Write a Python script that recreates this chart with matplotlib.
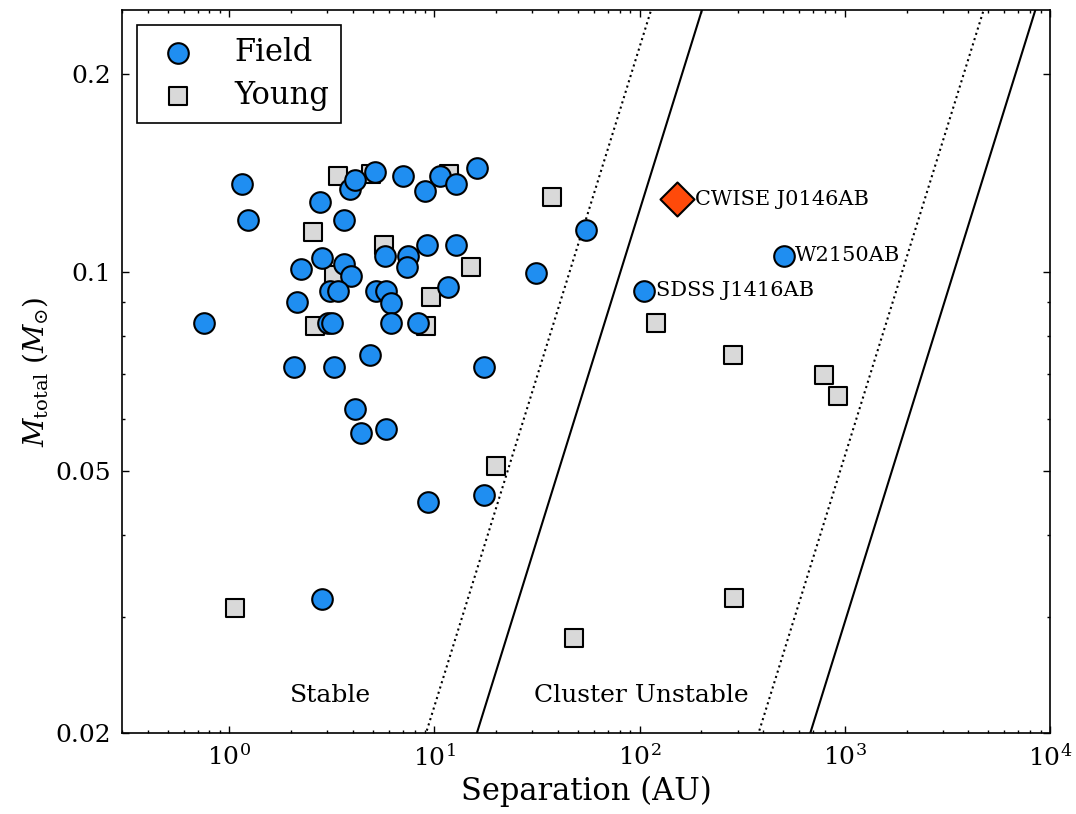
import numpy as np
import matplotlib
matplotlib.use('Agg')
import matplotlib.pyplot as plt
from matplotlib.ticker import LogLocator, NullFormatter, FixedLocator, FixedFormatter

plt.rcParams['font.family'] = ['DejaVu Serif']
plt.rcParams['mathtext.fontset'] = 'dejavuserif'

# field binaries: separation (AU), total mass (Msun)
field_sep = [1.15, 1.23, 0.756, 2.77, 3.64, 3.89, 4.12, 5.15, 7.03, 8.99, 10.6, 12.8,
             16.2, 54.8, 2.23, 2.84, 3.62, 3.91, 2.14, 3.09, 3.37, 3.03, 3.15, 5.73,
             7.41, 7.37, 9.16, 12.8, 5.21, 5.79, 6.12, 6.14, 8.34, 11.6, 31.4, 2.07,
             3.23, 4.85, 17.5, 4.09, 4.40, 5.79, 9.30, 17.5, 2.84, 104.6, 508]
field_mass = [0.136, 0.120, 0.0839, 0.128, 0.120, 0.134, 0.138, 0.142, 0.140, 0.133,
              0.140, 0.136, 0.144, 0.116, 0.101, 0.105, 0.103, 0.0988, 0.0903, 0.0938,
              0.0938, 0.0839, 0.0839, 0.106, 0.106, 0.102, 0.110, 0.110, 0.0938, 0.0938,
              0.0898, 0.0839, 0.0839, 0.0950, 0.0999, 0.0719, 0.0719, 0.0749, 0.0719,
              0.0621, 0.0570, 0.0579, 0.0449, 0.0459, 0.0319, 0.0938, 0.106]

# young binaries
young_sep = [3.37, 4.89, 11.8, 37.4, 2.57, 5.70, 3.24, 15.1, 9.65, 2.62, 9.06, 19.9,
             1.066, 47.9, 120, 286, 795, 929, 287]
young_mass = [0.140, 0.141, 0.141, 0.130, 0.115, 0.110, 0.0991, 0.102, 0.0918, 0.0830,
              0.0830, 0.0509, 0.0310, 0.0279, 0.0839, 0.0749, 0.0699, 0.0648, 0.0321]

# new system
cwise_sep = 152
cwise_mass = 0.129

# named objects (label offset is a factor on separation)
names = ['CWISE J0146AB', 'W2150AB', 'SDSS J1416AB']
name_sep = [152, 508, 104.6]
name_mass = [0.129, 0.106, 0.0938]
name_off = [1.22, 1.12, 1.155]

# stability limits, M = a / k
solid_k = [805, 33950]
dotted_k = [455, 19000]

fig = plt.figure(figsize=(10.76, 8.14), dpi=100)
ax = fig.add_axes([0.1134, 0.0995, 0.8624, 0.8882])

a = np.logspace(-1, 5, 200)
for k in solid_k:
    ax.plot(a, a / k, 'k-', lw=1.5, zorder=1)
for k in dotted_k:
    ax.plot(a, a / k, 'k:', lw=1.5, zorder=1)

ax.scatter(young_sep, young_mass, marker='s', s=160, c='#d9d9d9',
           edgecolors='k', linewidths=1.5, label='Young', zorder=2)
ax.scatter(field_sep, field_mass, marker='o', s=220, c='#1f8ef1',
           edgecolors='k', linewidths=1.5, label='Field', zorder=3)
ax.scatter([cwise_sep], [cwise_mass], marker='D', s=300, c='#ff4a0a',
           edgecolors='k', linewidths=1.5, zorder=4)

for n, xs, ys, f in zip(names, name_sep, name_mass, name_off):
    ax.text(xs * f, ys, n, fontsize=15, va='center', ha='left', zorder=5)

ax.text(3.1, 0.0228, 'Stable', fontsize=18, ha='center', va='center')
ax.text(102, 0.0228, 'Cluster Unstable', fontsize=18, ha='center', va='center')

ax.set_xscale('log')
ax.set_yscale('log')
ax.set_xlim(0.3, 1e4)
ax.set_ylim(0.02, 0.25)

ax.yaxis.set_major_locator(FixedLocator([0.02, 0.05, 0.1, 0.2]))
ax.yaxis.set_major_formatter(FixedFormatter(['0.02', '0.05', '0.1', '0.2']))
ax.yaxis.set_minor_locator(LogLocator(base=10, subs=np.arange(1, 10)))
ax.yaxis.set_minor_formatter(NullFormatter())
ax.xaxis.set_major_locator(LogLocator(base=10, numticks=10))
ax.xaxis.set_minor_locator(LogLocator(base=10, subs=np.arange(2, 10), numticks=20))
ax.xaxis.set_minor_formatter(NullFormatter())

ax.tick_params(which='both', direction='in', top=True, right=True)
ax.tick_params(which='major', length=5, width=1, labelsize=18, pad=8)
ax.tick_params(which='minor', length=2.5, width=1)
for sp in ax.spines.values():
    sp.set_linewidth(1.2)

ax.set_xlabel('Separation (AU)', fontsize=22)
ax.set_ylabel(r'$M_{\rm total}$ ($M_{\odot}$)', fontsize=20)

handles, labels = ax.get_legend_handles_labels()
leg = ax.legend(handles[::-1], labels[::-1], loc='upper left', fontsize=22,
                scatterpoints=1, handlelength=1.9, handletextpad=0.9, borderpad=0.38,
                labelspacing=0.4, fancybox=False, edgecolor='k', framealpha=1)
leg.get_frame().set_linewidth(1.2)

plt.savefig('out.png', dpi=100)
